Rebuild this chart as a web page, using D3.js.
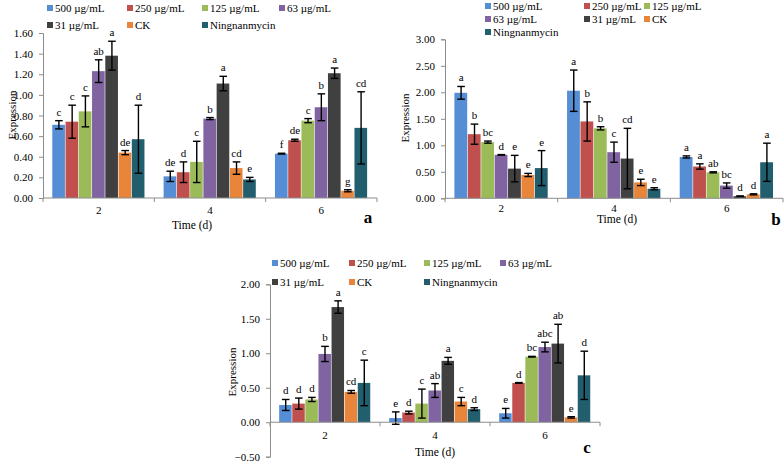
<!DOCTYPE html>
<html>
<head>
<meta charset="utf-8">
<script src="https://cdn.jsdelivr.net/npm/d3@7"></script>
</head>
<body style="margin:0;background:#fff">
<div id="chart"></div>
<script>
// categories and series
const categories = ["2", "4", "6"];
const seriesNames = ["500 µg/mL", "250 µg/mL", "125 µg/mL", "63 µg/mL", "31 µg/mL", "CK", "Ningnanmycin"];
const seriesColors = ["#558ed5", "#c0504d", "#9bbb59", "#8064a2", "#404040", "#e8853a", "#215f6e"];

// panel a: one row per series, values at day 2, 4, 6
const aValues = [[0.71, 0.21, 0.43], [0.74, 0.25, 0.56], [0.84, 0.35, 0.75], [1.23, 0.77, 0.88], [1.38, 1.11, 1.21], [0.44, 0.29, 0.07], [0.57, 0.18, 0.68]];
const aErrors = [[0.04, 0.05, 0.004], [0.16, 0.10, 0.01], [0.15, 0.20, 0.02], [0.11, 0.01, 0.13], [0.14, 0.07, 0.05], [0.02, 0.06, 0.01], [0.33, 0.02, 0.35]];
const aLetters = [["c", "de", "f"], ["c", "d", "de"], ["c", "c", "c"], ["ab", "b", "b"], ["a", "a", "a"], ["de", "cd", "g"], ["d", "e", "cd"]];
const aTicks = [0, 0.2, 0.4, 0.6, 0.8, 1.0, 1.2, 1.4, 1.6];

// panel b
const bValues = [[1.99, 2.03, 0.78], [1.21, 1.45, 0.60], [1.06, 1.32, 0.49], [0.82, 0.87, 0.24], [0.56, 0.75, 0.04], [0.44, 0.30, 0.075], [0.57, 0.18, 0.68]];
const bErrors = [[0.12, 0.39, 0.02], [0.19, 0.37, 0.05], [0.02, 0.03, 0.01], [0.005, 0.19, 0.05], [0.25, 0.57, 0.005], [0.03, 0.06, 0.01], [0.33, 0.02, 0.36]];
const bLetters = [["a", "a", "a"], ["b", "b", "a"], ["bc", "b", "ab"], ["d", "c", "bc"], ["e", "cd", "d"], ["e", "e", "d"], ["e", "e", "a"]];
const bTicks = [0, 0.5, 1.0, 1.5, 2.0, 2.5, 3.0];

// panel c
const cValues = [[0.25, 0.06, 0.13], [0.27, 0.14, 0.57], [0.33, 0.27, 0.95], [0.99, 0.46, 1.09], [1.67, 0.89, 1.14], [0.44, 0.30, 0.07], [0.57, 0.19, 0.68]];
const cErrors = [[0.08, 0.09, 0.07], [0.08, 0.02, 0.005], [0.03, 0.21, 0.005], [0.11, 0.10, 0.07], [0.09, 0.05, 0.28], [0.02, 0.06, 0.01], [0.33, 0.02, 0.35]];
const cLetters = [["d", "e", "e"], ["d", "d", "d"], ["d", "c", "bc"], ["b", "ab", "abc"], ["a", "a", "ab"], ["cd", "c", "e"], ["c", "d", "d"]];
const cTicks = [-0.5, 0, 0.5, 1.0, 1.5, 2.0];

const FONT = "'Liberation Serif', 'Times New Roman', 'DejaVu Serif', serif";

const svg = d3.select("#chart").append("svg")
    .attr("width", 784)
    .attr("height", 463)
    .attr("font-family", FONT)
    .style("font-family", FONT);

function label(g, x, y, txt, size) {
    return g.append("text")
        .attr("x", x).attr("y", y)
        .attr("font-size", size)
        .attr("font-family", FONT)
        .style("font-family", FONT)
        .attr("fill", "#000")
        .text(txt);
}

function drawPanel(p) {
    let g = svg.append("g");

    let y = d3.scaleLinear().domain([p.ticks[0], p.ticks[p.ticks.length - 1]]).range([p.yBottom, p.yTop]);
    let x0 = d3.scaleBand().domain(categories).range([p.xLeft, p.xRight]).padding(0);
    let x1 = d3.scaleBand().domain(d3.range(seriesNames.length))
        .range([0, x0.bandwidth()]).paddingInner(0).paddingOuter(0.7);

    // y axis
    let yAxis = g.append("g")
        .attr("transform", `translate(${p.xLeft},0)`)
        .call(d3.axisLeft(y).tickValues(p.ticks).tickFormat(d3.format(".2f")).tickSize(4).tickPadding(6));
    yAxis.attr("font-family", FONT);
    yAxis.select(".domain").attr("stroke", "#8c8c8c");
    yAxis.selectAll(".tick line").attr("stroke", "#8c8c8c");
    yAxis.selectAll(".tick text").attr("font-size", 11).attr("fill", "#000")
        .style("font-family", FONT);

    // bars
    categories.forEach((c, ci) => {
        seriesNames.forEach((s, si) => {
            let v = p.values[si][ci];
            let e = p.errors[si][ci];
            let bx = x0(c) + x1(si);
            let bw = x1.bandwidth();
            g.append("rect")
                .attr("x", bx)
                .attr("y", Math.min(y(v), y(0)))
                .attr("width", bw - 0.6)
                .attr("height", Math.abs(y(0) - y(v)))
                .attr("fill", seriesColors[si]);
            let cx = bx + bw / 2;
            g.append("line")
                .attr("x1", cx).attr("x2", cx)
                .attr("y1", y(v + e)).attr("y2", y(v - e))
                .attr("stroke", "#000").attr("stroke-width", 1.4);
            [v + e, v - e].forEach(t => {
                g.append("line")
                    .attr("x1", cx - 3.8).attr("x2", cx + 3.8)
                    .attr("y1", y(t)).attr("y2", y(t))
                    .attr("stroke", "#000").attr("stroke-width", 1.4);
            });
            label(g, cx, y(v + e) - 5, p.letters[si][ci], 11)
                .attr("text-anchor", "middle");
        });
    });

    // x axis line with category dividers
    let ax = g.append("g");
    ax.append("line")
        .attr("x1", p.xLeft).attr("x2", p.xRight)
        .attr("y1", y(0)).attr("y2", y(0))
        .attr("stroke", "#8c8c8c");
    let edges = categories.map(c => x0(c)).concat([p.xRight]);
    edges.forEach(ex => {
        ax.append("line")
            .attr("x1", ex).attr("x2", ex)
            .attr("y1", y(0)).attr("y2", y(0) + 4)
            .attr("stroke", "#8c8c8c");
    });
    categories.forEach(c => {
        label(ax, x0(c) + x0.bandwidth() / 2, p.catLabelY + 4, c, 11)
            .attr("text-anchor", "middle");
    });

    // axis titles
    label(g, 0, 0, "Expression", 11)
        .attr("transform", `translate(${p.yTitle[0]},${p.yTitle[1]}) rotate(-90)`)
        .attr("text-anchor", "middle")
        .attr("dy", "0.35em");
    label(g, p.xTitle[0], p.xTitle[1] + 4, "Time (d)", 11.5)
        .attr("text-anchor", "middle");
    label(g, p.tag[0], p.tag[1] + 5, p.name, 17)
        .attr("text-anchor", "middle")
        .attr("font-weight", "bold");

    // legend
    p.legend.forEach((row, ri) => {
        row.forEach((si, ki) => {
            let lx = p.legendCols[ki];
            let ly = p.legendRows[ri];
            g.append("rect")
                .attr("x", lx - 3).attr("y", ly - 3)
                .attr("width", 6).attr("height", 6)
                .attr("fill", seriesColors[si]);
            label(g, lx + 5, ly + 4, seriesNames[si], 11);
        });
    });
}

drawPanel({
    name: "a", values: aValues, errors: aErrors, letters: aLetters, ticks: aTicks,
    xLeft: 43, xRight: 377, yTop: 33, yBottom: 198,
    catLabelY: 210, yTitle: [12, 115], xTitle: [192, 225], tag: [368, 218],
    legend: [[0, 1, 2, 3], [4, 5, 6]], legendCols: [50, 130, 205, 282], legendRows: [8, 25]
});

drawPanel({
    name: "b", values: bValues, errors: bErrors, letters: bLetters, ticks: bTicks,
    xLeft: 445, xRight: 783, yTop: 39.3, yBottom: 198.3,
    catLabelY: 208, yTitle: [405, 118], xTitle: [617, 219], tag: [776, 220],
    legend: [[0, 1, 2], [3, 4, 5], [6]], legendCols: [488, 587, 647], legendRows: [6, 19, 32]
});

drawPanel({
    name: "c", values: cValues, errors: cErrors, letters: cLetters, ticks: cTicks,
    xLeft: 270, xRight: 600, yTop: 284.3, yBottom: 456.7,
    catLabelY: 435, yTitle: [232, 372], xTitle: [435, 452], tag: [587, 448],
    legend: [[0, 1, 2, 3], [4, 5, 6]], legendCols: [275, 352, 427, 503], legendRows: [263, 282]
});
</script>
</body>
</html>
